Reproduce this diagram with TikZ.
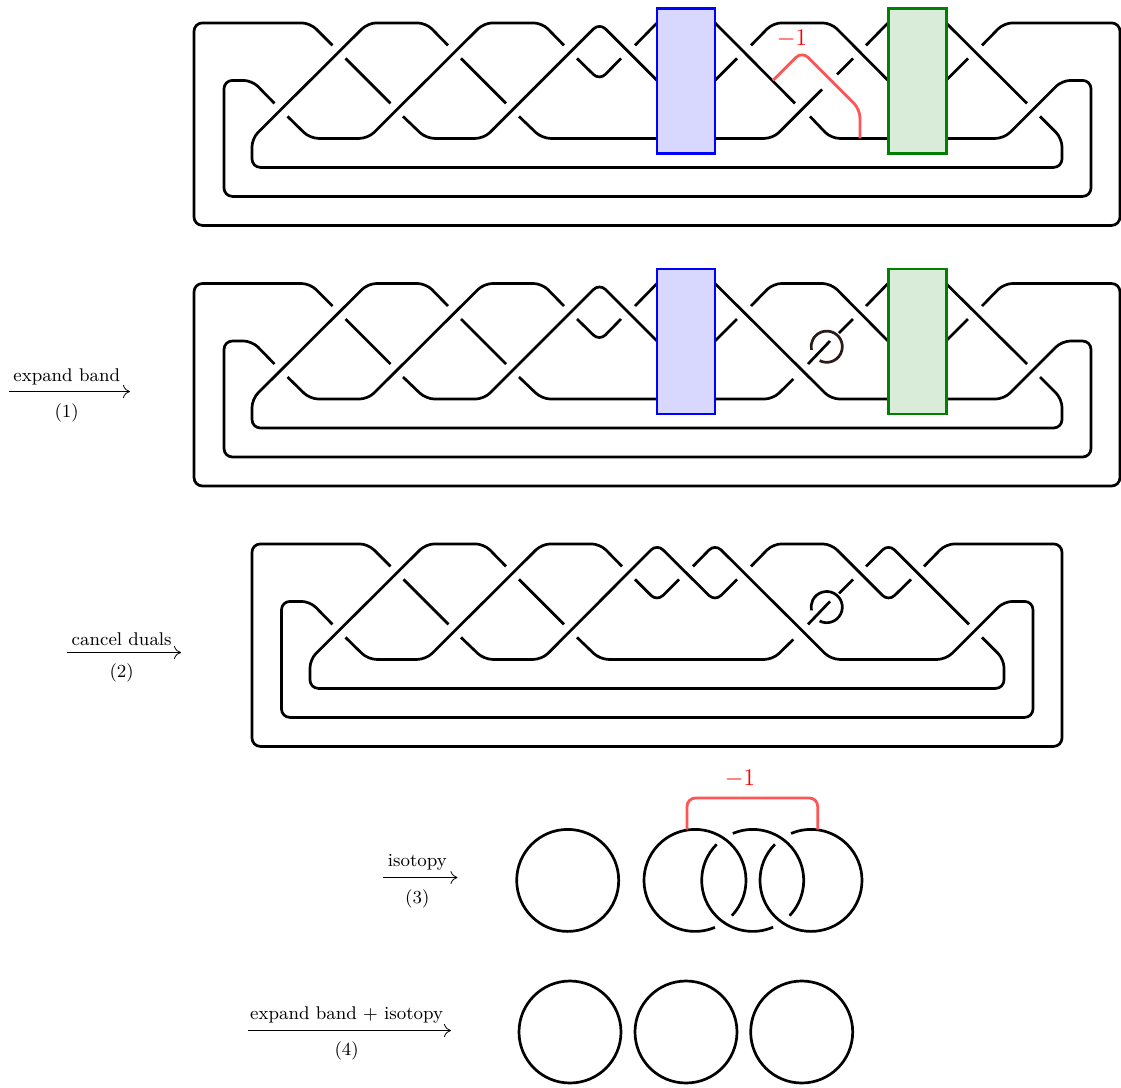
\documentclass[tikz,border=0pt]{standalone}
\usepackage{xcolor}
\usetikzlibrary{arrows.meta}
\definecolor{bandblue}{HTML}{D8D8FF}
\definecolor{bandgreen}{HTML}{D9ECD9}
\definecolor{edgegreen}{HTML}{008000}
\definecolor{handle}{HTML}{FF5555}
\definecolor{loopbrown}{HTML}{2B1A1A}
\tikzset{
  kn/.style={line width=1.35pt,black,rounded corners=4.2pt},
  redband/.style={line width=1.4pt,handle,rounded corners=4.2pt},
  circ/.style={line width=1.35pt,black},
  bluebox/.style={draw=blue,fill=bandblue,line width=1.25pt},
  greenbox/.style={draw=edgegreen,fill=bandgreen,line width=1.25pt},
  arr/.style={-{To[length=3.5pt,width=6.5pt]},line width=0.4pt},
  lab/.style={font=\fontsize{9.2}{11}\selectfont,inner sep=0pt},
  redlab/.style={font=\fontsize{12.8}{15}\selectfont,text=red,inner sep=0pt}
}
% strands shared by the first two rows
\newcommand{\commonrow}{%
  \draw[kn] (332.5,45) -- (310,22.5) -- (194,22.5) -- (194,225) -- (1120,225) -- (1120,22.5) -- (1004,22.5) -- (982,45);
  \draw[kn] (448,45) -- (426,22.5) -- (368,22.5) -- (252,138) -- (252,167) -- (1062,167) -- (1062,138) -- (1040,116);
  \draw[kn] (274.5,103) -- (252,80) -- (224,80) -- (224,196) -- (1091,196) -- (1091,80) -- (1062,80) -- (1004,138) -- (946,138);
  \draw[kn] (287.5,116) -- (310,138) -- (368,138) -- (484,22.5) -- (542,22.5) -- (564,45);
  \draw[kn] (345.5,58) -- (390.5,103);
  \draw[kn] (403,116) -- (426,138) -- (484,138) -- (599.5,22.5) -- (657,80);
  \draw[kn] (461,58) -- (506,103);
  \draw[kn] (519,116) -- (542,138) -- (657,138);
  \draw[kn] (577,58) -- (599.5,80) -- (621,58);
  \draw[kn] (635,45) -- (657,22.5);
  \draw[kn] (715,80) -- (737,58);
  \draw[kn] (751,45) -- (773,22.5) -- (831,22.5) -- (888,80);
  \draw[kn] (866,45) -- (888,22.5);
  \draw[kn] (946,22.5) -- (1027,103);
  \draw[kn] (946,80) -- (968,58);
}
\begin{document}
\begin{tikzpicture}[x=0.5pt,y=-0.5pt]
\useasboundingbox (0,0) rectangle (1121,1088);

% ---------- row 1
\begin{scope}[shift={(0,0.4)}]
  \commonrow
  \draw[kn] (715,22.5) -- (795,103);
  \draw[kn] (715,138) -- (773,138) -- (822,89);
  \draw[kn] (810,116) -- (831,138) -- (888,138);
  \draw[kn] (837,74) -- (853,58);
  \draw[bluebox] (657,8) rectangle (715,153);
  \draw[greenbox] (888.5,8) rectangle (946.5,153);
  \draw[redband] (773,80) -- (802,51) -- (860,109) -- (860,138);
  \node[redlab] (m1) at (792,38) {$-1$};
\end{scope}

% ---------- row 2
\begin{scope}[shift={(0,261)}]
  \commonrow
  \draw[kn] (715,22.5) -- (831,138) -- (888,138);
  \draw[kn] (715,138) -- (773,138) -- (793.3,118);
  \draw[kn] (808,103) -- (830,80);
  \draw[kn] (839,72) -- (853,58);
  \draw[bluebox] (657,8) rectangle (715,153);
  \draw[greenbox] (888.5,8) rectangle (946.5,153);
  \coordinate (c2) at (826.7,85.7);
  \draw[line width=1.35pt,loopbrown] (c2) ++(243:7.8pt) arc[start angle=243,end angle=552,radius=7.8pt];
\end{scope}

% ---------- row 3
\begin{scope}[shift={(0,521.4)}]
  \draw[kn] (390.5,45) -- (368,22.5) -- (252,22.5) -- (252,225) -- (1062,225) -- (1062,22.5) -- (946,22.5) -- (924,45);
  \draw[kn] (506,45) -- (484,22.5) -- (426,22.5) -- (310,138) -- (310,167) -- (1004,167) -- (1004,138) -- (982,116);
  \draw[kn] (332.5,103) -- (310,80) -- (281.5,80) -- (281.5,196) -- (1033,196) -- (1033,80) -- (1004,80) -- (946,138) -- (831,138) -- (715,22.5) -- (693,45);
  \draw[kn] (345.5,116) -- (368,138) -- (426,138) -- (542,22.5) -- (600,22.5) -- (622,45);
  \draw[kn] (403.5,58) -- (448.5,103);
  \draw[kn] (461,116) -- (484,138) -- (542,138) -- (657,22.5) -- (715,80) -- (737,58);
  \draw[kn] (519,58) -- (564,103);
  \draw[kn] (577,116) -- (600,138) -- (773,138) -- (793.3,118);
  \draw[kn] (635,58) -- (657,80) -- (679,58);
  \draw[kn] (751,45) -- (773,22.5) -- (831,22.5) -- (888.5,80) -- (911,58);
  \draw[kn] (866,45) -- (888.5,22.5) -- (969,103);
  \draw[kn] (808,103) -- (830,80);
  \draw[kn] (839,72) -- (853,58);
  \coordinate (c3) at (826.7,85.7);
  \draw[circ] (c3) ++(243:7.8pt) arc[start angle=243,end angle=552,radius=7.8pt];
\end{scope}

% ---------- row 4
\coordinate (u0) at (567.7,880.4);
\coordinate (u1) at (695,880.4);
\coordinate (u2) at (752.7,880.4);
\coordinate (u3) at (811,880.4);
\draw[circ] (u0) circle[radius=25.5pt];
\draw[circ] (u1) ++(-43.7:25.5pt) arc[start angle=-43.7,end angle=293,radius=25.5pt];
\draw[circ] (u2) ++(135:25.5pt) arc[start angle=135,end angle=293.6,radius=25.5pt];
\draw[circ] (u2) ++(113:25.5pt) arc[start angle=113,end angle=-43.7,radius=25.5pt];
\draw[circ] (u3) ++(135:25.5pt) arc[start angle=135,end angle=473,radius=25.5pt];
\draw[redband] (687,829.5) -- (687,798) -- (817.7,798) -- (817.7,829.5);
\node[redlab] (m4) at (740,778.5) {$-1$};

% ---------- row 5
\coordinate (v1) at (570,1032);
\coordinate (v2) at (686,1032);
\coordinate (v3) at (801.7,1032);
\draw[circ] (v1) circle[radius=25.5pt];
\draw[circ] (v2) circle[radius=25.5pt];
\draw[circ] (v3) circle[radius=25.5pt];

% ---------- arrows
\coordinate (a1s) at (9,391.5);   \coordinate (a1e) at (130,391.5);
\coordinate (a2s) at (66.7,652.5); \coordinate (a2e) at (181,652.5);
\coordinate (a3s) at (382.7,877.5); \coordinate (a3e) at (457.5,877.5);
\coordinate (a4s) at (248.3,1030.5); \coordinate (a4e) at (451,1030.5);
\draw[arr] (a1s) -- (a1e);
\draw[arr] (a2s) -- (a2e);
\draw[arr] (a3s) -- (a3e);
\draw[arr] (a4s) -- (a4e);
\node[lab] (t1) at (66.7,376.5) {expand band};
\node[lab] (n1) at (66.7,412.5) {(1)};
\node[lab] (t2) at (121.7,639.5) {cancel duals};
\node[lab] (n2) at (121.7,672.5) {(2)};
\node[lab] (t3) at (417.3,862) {isotopy};
\node[lab] (n3) at (417.3,898.5) {(3)};
\node[lab] (t4) at (346.7,1015) {expand band + isotopy};
\node[lab] (n4) at (346.7,1050.5) {(4)};
\end{tikzpicture}
\end{document}
